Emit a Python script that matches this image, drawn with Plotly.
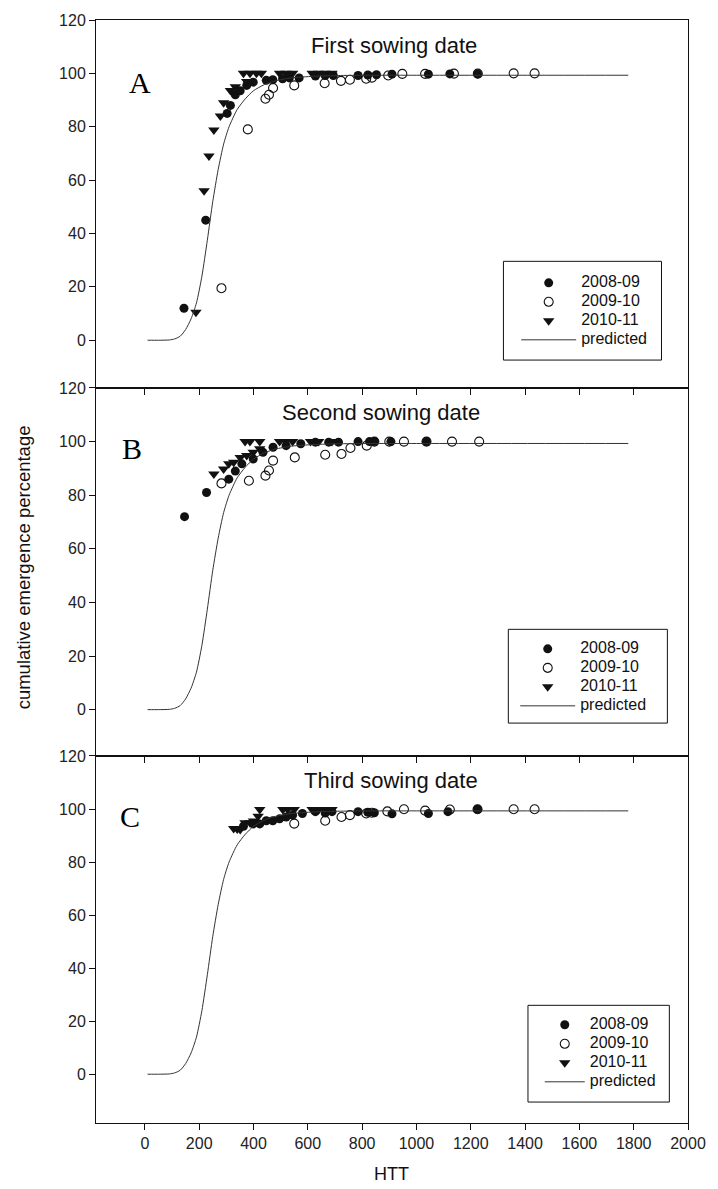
import plotly.graph_objects as go
from plotly.subplots import make_subplots

# ---------------- data ----------------
years = ["2008-09", "2009-10", "2010-11"]
panel_titles = ["First sowing date", "Second sowing date", "Third sowing date"]
panel_letters = ["A", "B", "C"]

# predicted emergence curve (HTT, %)
pred_x = [10, 50, 90, 110, 130, 150, 170, 190, 210, 230, 250, 270, 290, 310, 340,
          370, 400, 440, 480, 540, 620, 720, 850, 1000, 1780]
pred_y = [0, 0, 0.1, 0.5, 1.5, 4, 8, 14, 24, 37.5, 52, 64, 73.5, 80, 86.5,
          90.5, 93.5, 95.8, 97.2, 98.3, 98.9, 99.2, 99.3, 99.3, 99.3]

# Panel A - first sowing date
a08_x = [144, 224, 303, 315, 333, 351, 375, 399, 447, 471, 507, 532, 568, 628, 664, 694,
         785, 821, 853, 910, 1044, 1123, 1225]
a08_y = [12, 45, 85, 88, 92, 93.5, 95.5, 96.7, 97.4, 97.6, 98, 98.3, 98.3, 99, 99.2, 99.2,
         99.2, 99.4, 99.5, 99.7, 99.7, 99.8, 99.8]
a09_x = [282, 379, 444, 457, 472, 550, 662, 722, 755, 815, 836, 896, 948, 1032, 1138, 1226, 1358, 1435]
a09_y = [19.5, 79, 90.5, 92, 94.5, 95.5, 96.3, 97.2, 97.6, 98, 98.4, 99.2, 99.8, 99.8, 99.9, 99.9, 100, 100]
a10_x = [188, 218, 236, 254, 278, 290, 315, 333, 363, 375, 387, 411, 429, 496, 520, 544, 616, 640, 664, 689]
a10_y = [10.5, 56, 69, 78.8, 84, 89, 93.6, 95, 100, 97, 100, 100, 100, 100, 100, 100, 100, 100, 100, 100]

# Panel B - second sowing date
b08_x = [146, 227, 309, 333, 357, 399, 435, 472, 520, 574, 628, 677, 713, 785, 827, 845, 906, 1037]
b08_y = [72, 81, 86, 89, 91.7, 93.5, 96, 97.9, 98.5, 99.2, 99.8, 99.8, 99.8, 100, 100, 100, 100, 100]
b09_x = [282, 383, 444, 457, 472, 552, 664, 724, 757, 817, 845, 900, 954, 1037, 1131, 1231]
b09_y = [84.4, 85.4, 87.3, 89.2, 92.9, 94.1, 95.1, 95.4, 97.6, 98.5, 100, 100, 100, 100, 100, 100]
b10_x = [254, 290, 309, 327, 351, 369, 375, 387, 399, 423, 423, 496, 520, 544, 610, 640, 689]
b10_y = [87.9, 89.8, 91.7, 92.3, 94.1, 100, 94.8, 100, 96, 97.3, 100, 100, 100, 100, 100, 100, 100]

# Panel C - third sowing date
c08_x = [363, 399, 423, 447, 471, 496, 520, 544, 580, 628, 664, 689, 785, 821, 845, 910, 1044, 1116, 1225]
c08_y = [93.5, 94.4, 94.4, 95.6, 95.6, 96.3, 97, 97.7, 98.3, 99, 98.5, 99, 99, 98.8, 98.6, 98.2, 98.3, 99, 99.9]
c09_x = [550, 664, 724, 755, 815, 836, 893, 954, 1032, 1123, 1225, 1358, 1435]
c09_y = [94.5, 95.6, 97, 97.7, 98.3, 98.6, 99.1, 99.9, 99.4, 99.8, 99.9, 99.9, 99.9]
c10_x = [327, 340, 351, 369, 387, 400, 417, 423, 508, 526, 550, 616, 640, 664, 689]
c10_y = [92.7, 92.5, 92.3, 94.8, 94.8, 95.5, 97.3, 99.8, 99.8, 99.8, 99.8, 99.8, 99.8, 99.8, 99.8]

x_ticks = list(range(0, 2001, 200))
y_ticks = list(range(0, 121, 20))

panels = [
    [(a08_x, a08_y), (a09_x, a09_y), (a10_x, a10_y)],
    [(b08_x, b08_y), (b09_x, b09_y), (b10_x, b10_y)],
    [(c08_x, c08_y), (c09_x, c09_y), (c10_x, c10_y)],
]

# ---------------- layout helpers ----------------
W, H = 718, 1189
ML, MR, MT, MB = 96, 19, 17, 66
PW = W - ML - MR
PH = H - MT - MB


def pxx(xp):
    return (xp - ML) / PW


def pxy(yp):
    return (H - MB - yp) / PH


FONT = "Liberation Sans, Arial, sans-serif"
SERIF = "Liberation Serif, Times New Roman, serif"
INK = "#111111"


def legend_label(s):
    return f"<span style='font-size:16px'>{s}</span>"


fig = make_subplots(rows=3, cols=1, vertical_spacing=0)

symbols = [
    dict(symbol="circle", size=9, color=INK),
    dict(symbol="circle-open", size=9, color=INK, line=dict(width=1.1, color=INK)),
    dict(symbol="triangle-down", size=10, color=INK),
]
legend_ids = ["legend", "legend2", "legend3"]

for i, series in enumerate(panels):
    row = i + 1
    for j, (xs, ys) in enumerate(series):
        fig.add_trace(go.Scatter(x=xs, y=ys, mode="markers", name=legend_label(years[j]),
                                 marker=symbols[j], legend=legend_ids[i]),
                      row=row, col=1)
    fig.add_trace(go.Scatter(x=pred_x, y=pred_y, mode="lines", name=legend_label("predicted"),
                             line=dict(color="#333333", width=1, shape="spline", smoothing=0.6),
                             legend=legend_ids[i]),
                  row=row, col=1)

# domains / ranges
bounds = [17, 386, 755, 1123]
y_ranges = [[-17.9, 120], [-17.3, 120], [-18.4, 120]]
for i in range(3):
    yname = "yaxis" if i == 0 else f"yaxis{i+1}"
    xname = "xaxis" if i == 0 else f"xaxis{i+1}"
    fig.layout[yname].update(
        domain=[max(0, pxy(bounds[i + 1])), min(1, pxy(bounds[i]))],
        range=y_ranges[i], tickvals=y_ticks, ticks="outside", ticklen=6,
        tickcolor=INK, showline=True, linecolor=INK, linewidth=1, mirror=True,
        showgrid=False, zeroline=False, tickfont=dict(family=FONT, size=16, color="#222"),
    )
    fig.layout[xname].update(
        range=[-180, 2000], tickvals=x_ticks, ticks="outside", ticklen=6,
        tickcolor=INK, showline=True, linecolor=INK, linewidth=1, mirror=True,
        showgrid=False, zeroline=False, showticklabels=(i == 2),
        tickfont=dict(family=FONT, size=16, color="#222"),
    )

annotations = []
title_pos = [(400, 43), (386, 411), (396, 780)]
letter_pos = [(141, 80), (133, 447), (131, 816)]
for i in range(3):
    annotations.append(dict(x=pxx(title_pos[i][0]), y=pxy(title_pos[i][1]), xref="paper", yref="paper",
                            text=panel_titles[i], showarrow=False, xanchor="center", yanchor="middle",
                            font=dict(family=FONT, size=22, color="#111")))
    annotations.append(dict(x=pxx(letter_pos[i][0]), y=pxy(letter_pos[i][1]), xref="paper", yref="paper",
                            text=panel_letters[i], showarrow=False, xanchor="center", yanchor="middle",
                            font=dict(family=SERIF, size=30, color="#000")))
annotations.append(dict(x=pxx(22.5), y=pxy(566), xref="paper", yref="paper",
                        text="cumulative emergence percentage", textangle=-90, showarrow=False,
                        xanchor="center", yanchor="middle",
                        font=dict(family=FONT, size=18.5, color="#111")))
annotations.append(dict(x=pxx(397), y=pxy(1174), xref="paper", yref="paper",
                        text="HTT", showarrow=False, xanchor="center", yanchor="middle",
                        font=dict(family=FONT, size=18, color="#111")))

# legend boxes (pixel rectangles)
boxes = [(511, 259, 672, 358), (516, 628, 678, 722), (536, 1005, 680, 1102)]
shapes = []
for (x0, y0, x1, y1) in boxes:
    shapes.append(dict(type="rect", xref="paper", yref="paper", x0=pxx(x0), x1=pxx(x1),
                       y0=pxy(y1), y1=pxy(y0), line=dict(color=INK, width=1),
                       fillcolor="rgba(0,0,0,0)"))

# legend placement: (left px, top px, itemwidth)
legend_pos = [(524, 266, 55), (523, 633, 55), (548, 1010, 40)]
layout_legends = {}
for i, lid in enumerate(legend_ids):
    lx, ly, iw = legend_pos[i]
    layout_legends[lid] = dict(x=pxx(lx), y=pxy(ly), bgcolor="rgba(0,0,0,0)", borderwidth=0,
                               xanchor="left", yanchor="top",
                               font=dict(family=FONT, size=11, color="#111"),
                               itemwidth=iw, tracegroupgap=0)

fig.update_layout(
    width=W, height=H, margin=dict(l=ML, r=MR, t=MT, b=MB),
    paper_bgcolor="white", plot_bgcolor="white",
    annotations=annotations, shapes=shapes, **layout_legends,
)

fig.write_html("out.html", config={"displayModeBar": False},
               post_script="document.body.style.margin='0';")
